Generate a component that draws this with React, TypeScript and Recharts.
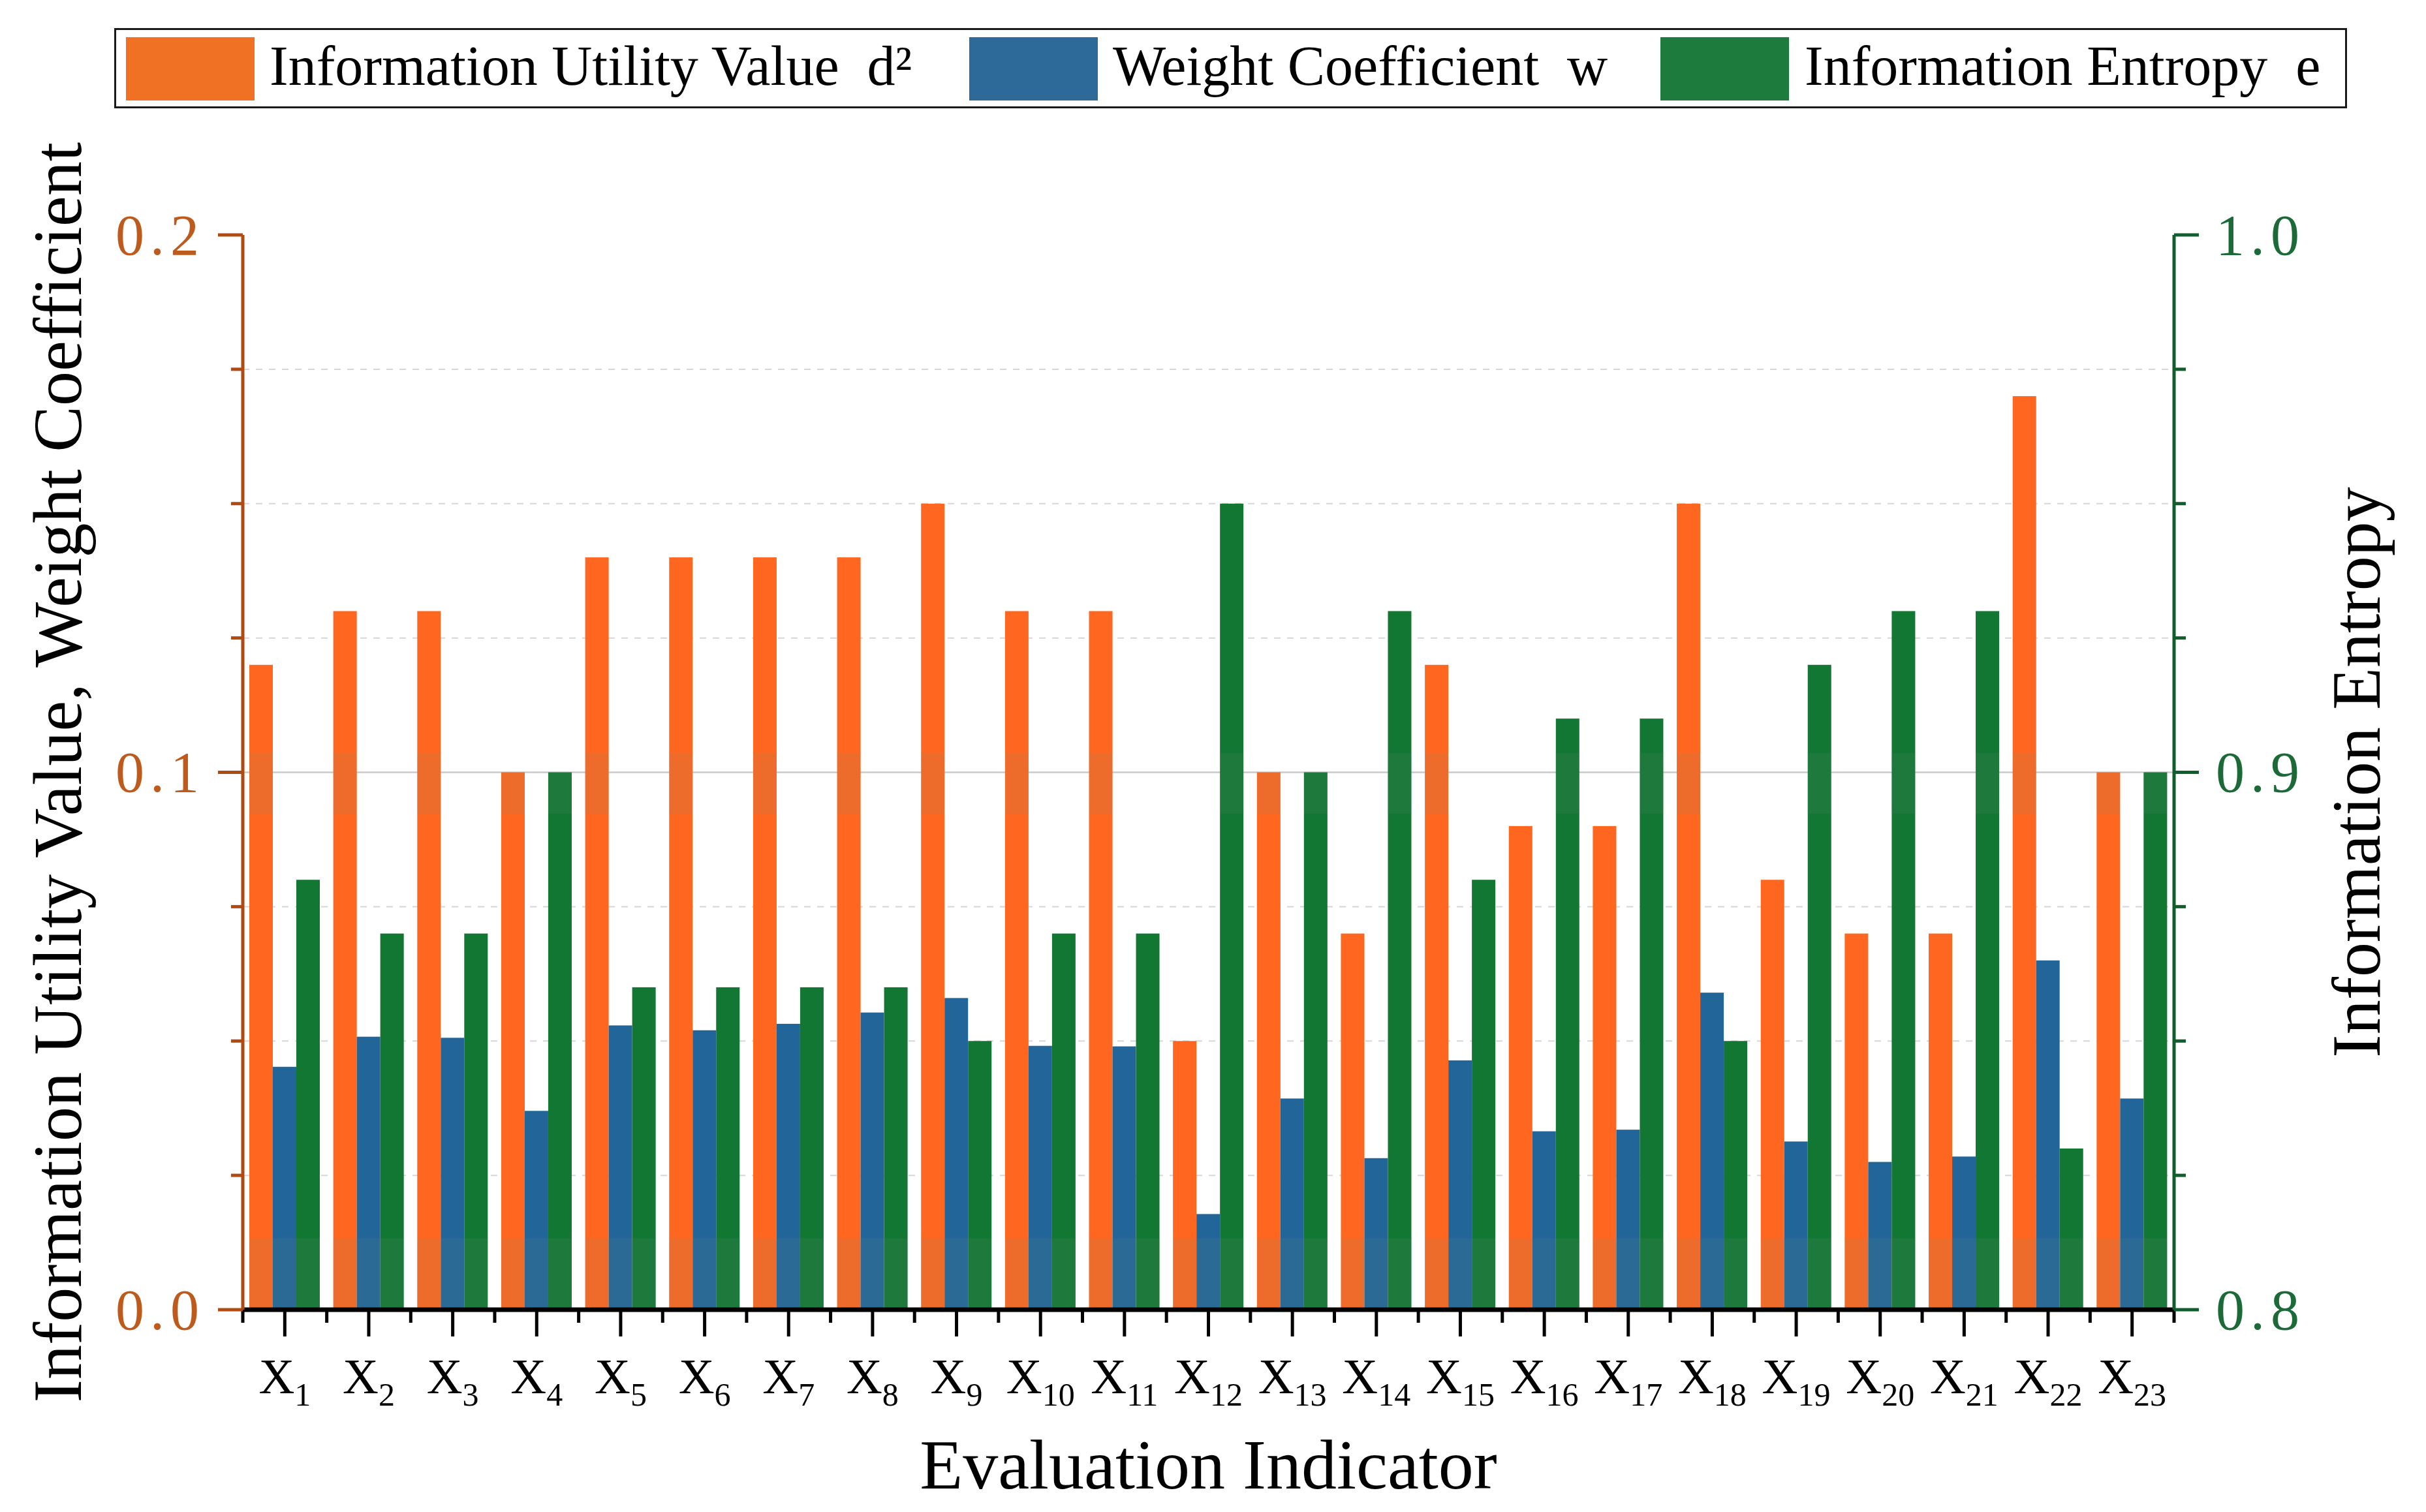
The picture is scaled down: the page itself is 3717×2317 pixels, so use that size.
import React from 'react';
import { BarChart, Bar, XAxis, YAxis, CartesianGrid, Legend, Label } from 'recharts';

// ---------------- data ----------------
const categories = ['X1', 'X2', 'X3', 'X4', 'X5', 'X6', 'X7', 'X8', 'X9', 'X10', 'X11', 'X12', 'X13', 'X14', 'X15', 'X16', 'X17', 'X18', 'X19', 'X20', 'X21', 'X22', 'X23'];
const utilityValues = [0.12, 0.13, 0.13, 0.10, 0.14, 0.14, 0.14, 0.14, 0.15, 0.13, 0.13, 0.05, 0.10, 0.07, 0.12, 0.09, 0.09, 0.15, 0.08, 0.07, 0.07, 0.17, 0.10];
const weightValues = [0.0452, 0.0508, 0.0506, 0.0370, 0.0529, 0.0520, 0.0532, 0.0553, 0.0580, 0.0491, 0.0490, 0.0178, 0.0393, 0.0282, 0.0464, 0.0332, 0.0335, 0.0590, 0.0313, 0.0275, 0.0285, 0.0650, 0.0393];
const entropyValues = [0.88, 0.87, 0.87, 0.90, 0.86, 0.86, 0.86, 0.86, 0.85, 0.87, 0.87, 0.95, 0.90, 0.93, 0.88, 0.91, 0.91, 0.85, 0.92, 0.93, 0.93, 0.83, 0.90];

const leftTicks = [0, 0.025, 0.05, 0.075, 0.1, 0.125, 0.15, 0.175, 0.2];
const leftMajorTicks = [0, 0.1, 0.2];
const leftTickLabels = ['0.0', '0.1', '0.2'];
const rightTicks = [0.8, 0.825, 0.85, 0.875, 0.9, 0.925, 0.95, 0.975, 1.0];
const rightMajorTicks = [0.8, 0.9, 1.0];
const rightTickLabels = ['0.8', '0.9', '1.0'];
const dashedGridValues = [0.025, 0.05, 0.075, 0.125, 0.15, 0.175];
const solidGridValues = [0.1];

const seriesNames = ['Information Utility Value  d\u00B2', 'Weight Coefficient  w', 'Information Entropy  e'];
const xTitle = 'Evaluation Indicator';
const leftTitle = 'Information Utility Value, Weight Coefficient';
const rightTitle = 'Information Entropy';

const data = categories.map((name, i) => ({
  name,
  d2: utilityValues[i],
  w: weightValues[i],
  e: entropyValues[i],
}));

// ---------------- styles ----------------
const W = 3717;
const H = 2317;
const FONT = "'Liberation Serif', 'Times New Roman', serif";
const ORANGE = '#FF6720';
const BLUE = '#226699';
const GREEN = '#137734';
const legendColors = ['#F07024', '#2D6A99', '#1E7B3E'];
const LEFT_AXIS = '#B04A12';
const LEFT_LABEL = '#BE5A1C';
const RIGHT_AXIS = '#0F5E2C';
const RIGHT_LABEL = '#1C6A38';

// faint tint bands visible across the bars in the original (in left-axis units)
const tintBands = [
  [0.0923, 0.1036],
  [0, 0.0133],
];

const isMajor = (list: number[], v: number) => list.findIndex((m) => Math.abs(m - v) < 1e-9);

const makeShape = (fill: string) => (props: any) => {
  const { x, y, width, height, background } = props;
  if (!(width > 0) || !(height > 0)) return <g />;
  const top = background && typeof background.y === 'number' ? background.y : 360;
  const h = background && typeof background.height === 'number' ? background.height : 1647;
  const py = (v: number) => top + (1 - v / 0.2) * h;
  return (
    <g>
      <rect x={x} y={y} width={width} height={height} fill={fill} />
      {tintBands.map(([lo, hi], i) => {
        const y1 = Math.max(y, py(hi));
        const y2 = Math.min(y + height, py(lo));
        if (y2 <= y1) return null;
        return <rect key={i} x={x} y={y1} width={width} height={y2 - y1} fill="#6F8A78" fillOpacity={0.12} />;
      })}
    </g>
  );
};

const LeftTick = (props: any) => {
  const { x, y, payload } = props;
  const idx = isMajor(leftMajorTicks, payload.value);
  const len = idx >= 0 ? 38 : 18;
  return (
    <g>
      <line x1={x - len} x2={x} y1={y} y2={y} stroke={LEFT_AXIS} strokeWidth={5} />
      {idx >= 0 && (
        <text x={x - 58} y={y} textAnchor="end" dominantBaseline="central" fontFamily={FONT} fontSize={88} letterSpacing={9} fill={LEFT_LABEL}>
          {leftTickLabels[idx]}
        </text>
      )}
    </g>
  );
};

const RightTick = (props: any) => {
  const { x, y, payload } = props;
  const idx = isMajor(rightMajorTicks, payload.value);
  const len = idx >= 0 ? 38 : 18;
  return (
    <g>
      <line x1={x} x2={x + len} y1={y} y2={y} stroke={RIGHT_AXIS} strokeWidth={5} />
      {idx >= 0 && (
        <text x={x + 64} y={y} textAnchor="start" dominantBaseline="central" fontFamily={FONT} fontSize={88} letterSpacing={9} fill={RIGHT_LABEL}>
          {rightTickLabels[idx]}
        </text>
      )}
    </g>
  );
};

const XTick = (props: any) => {
  const { x, y, payload, index } = props;
  const half = payload && typeof payload.offset === 'number' && payload.offset > 0 ? payload.offset : (3331 - 372) / categories.length / 2;
  const label = String(payload.value);
  const sub = label.slice(1);
  return (
    <g>
      <line x1={x} x2={x} y1={y} y2={y + 41} stroke="#000" strokeWidth={5} />
      <line x1={x - half} x2={x - half} y1={y} y2={y + 20} stroke="#000" strokeWidth={5} />
      {index === categories.length - 1 && (
        <line x1={x + half} x2={x + half} y1={y} y2={y + 20} stroke="#000" strokeWidth={5} />
      )}
      <text x={x} y={y + 128} textAnchor="middle" fontFamily={FONT} fontSize={76} fill="#000">
        X
        <tspan fontSize={50} dy={19}>{sub}</tspan>
      </text>
    </g>
  );
};

const legendLayout = [
  { swatch: 15, text: 235 },
  { swatch: 1307, text: 1527 },
  { swatch: 2366, text: 2587 },
];

const renderLegend = () => (
  <div
    style={{
      position: 'relative',
      boxSizing: 'border-box',
      width: 3421,
      height: 123,
      border: '3px solid #1a1a1a',
      background: '#fff',
      fontFamily: FONT,
    }}
  >
    {seriesNames.map((name, i) => (
      <React.Fragment key={name}>
        <div
          style={{
            position: 'absolute',
            left: legendLayout[i].swatch,
            top: 11,
            width: 197,
            height: 97,
            background: legendColors[i],
          }}
        />
        <div
          style={{
            position: 'absolute',
            left: legendLayout[i].text,
            top: 12,
            fontSize: 86,
            lineHeight: '86px',
            whiteSpace: 'pre',
            color: '#000',
          }}
        >
          {name}
        </div>
      </React.Fragment>
    ))}
  </div>
);

export default function App() {
  return (
    <div style={{ position: 'absolute', left: 0, top: 0, width: W, height: H, background: '#fff' }}>
      <BarChart
        width={W}
        height={H}
        data={data}
        margin={{ top: 360, right: 86, bottom: 10, left: 72 }}
        barCategoryGap={10}
        barGap={0}
      >
        <CartesianGrid
          yAxisId="left"
          vertical={false}
          horizontalValues={dashedGridValues}
          stroke="#D6D6D6"
          strokeWidth={2}
          strokeDasharray="10 10"
        />
        <CartesianGrid yAxisId="left" vertical={false} horizontalValues={solidGridValues} stroke="#C9C9C9" strokeWidth={2.5} />
        <XAxis
          dataKey="name"
          height={300}
          interval={0}
          tickLine={false}
          tickSize={0}
          tickMargin={0}
          axisLine={{ stroke: '#000', strokeWidth: 7 }}
          tick={<XTick />}
        >
          <Label
            content={(p: any) => {
              const vb = p.viewBox || {};
              const cx = (vb.x ?? 372) + (vb.width ?? 2959) / 2;
              return (
                <text x={cx} y={2281} textAnchor="middle" fontFamily={FONT} fontSize={108} fill="#000">
                  {xTitle}
                </text>
              );
            }}
          />
        </XAxis>
        <YAxis
          yAxisId="left"
          orientation="left"
          width={300}
          domain={[0, 0.2]}
          ticks={leftTicks}
          interval={0}
          tickLine={false}
          tickSize={0}
          tickMargin={0}
          axisLine={{ stroke: LEFT_AXIS, strokeWidth: 5 }}
          tick={<LeftTick />}
        >
          <Label
            content={(p: any) => {
              const vb = p.viewBox || {};
              const cy = (vb.y ?? 360) + (vb.height ?? 1647) / 2;
              return (
                <text x={124} y={cy} transform={`rotate(-90, 124, ${cy})`} textAnchor="middle" fontFamily={FONT} fontSize={106} fill="#000">
                  {leftTitle}
                </text>
              );
            }}
          />
        </YAxis>
        <YAxis
          yAxisId="right"
          orientation="right"
          width={300}
          domain={[0.8, 1.0]}
          allowDataOverflow
          ticks={rightTicks}
          interval={0}
          tickLine={false}
          tickSize={0}
          tickMargin={0}
          axisLine={{ stroke: RIGHT_AXIS, strokeWidth: 5 }}
          tick={<RightTick />}
        >
          <Label
            content={(p: any) => {
              const vb = p.viewBox || {};
              const cy = (vb.y ?? 360) + (vb.height ?? 1647) / 2;
              return (
                <text x={3646} y={cy} transform={`rotate(-90, 3646, ${cy})`} textAnchor="middle" fontFamily={FONT} fontSize={106} fill="#000">
                  {rightTitle}
                </text>
              );
            }}
          />
        </YAxis>
        <Legend
          layout="horizontal"
          verticalAlign="middle"
          align="center"
          wrapperStyle={{ position: 'absolute', left: 175, top: 43, width: 3421, height: 123 }}
          content={renderLegend}
        />
        <Bar yAxisId="left" dataKey="d2" name={seriesNames[0]} fill={ORANGE} isAnimationActive={false} shape={makeShape(ORANGE)} />
        <Bar yAxisId="left" dataKey="w" name={seriesNames[1]} fill={BLUE} isAnimationActive={false} shape={makeShape(BLUE)} />
        <Bar yAxisId="right" dataKey="e" name={seriesNames[2]} fill={GREEN} isAnimationActive={false} shape={makeShape(GREEN)} />
      </BarChart>
    </div>
  );
}
